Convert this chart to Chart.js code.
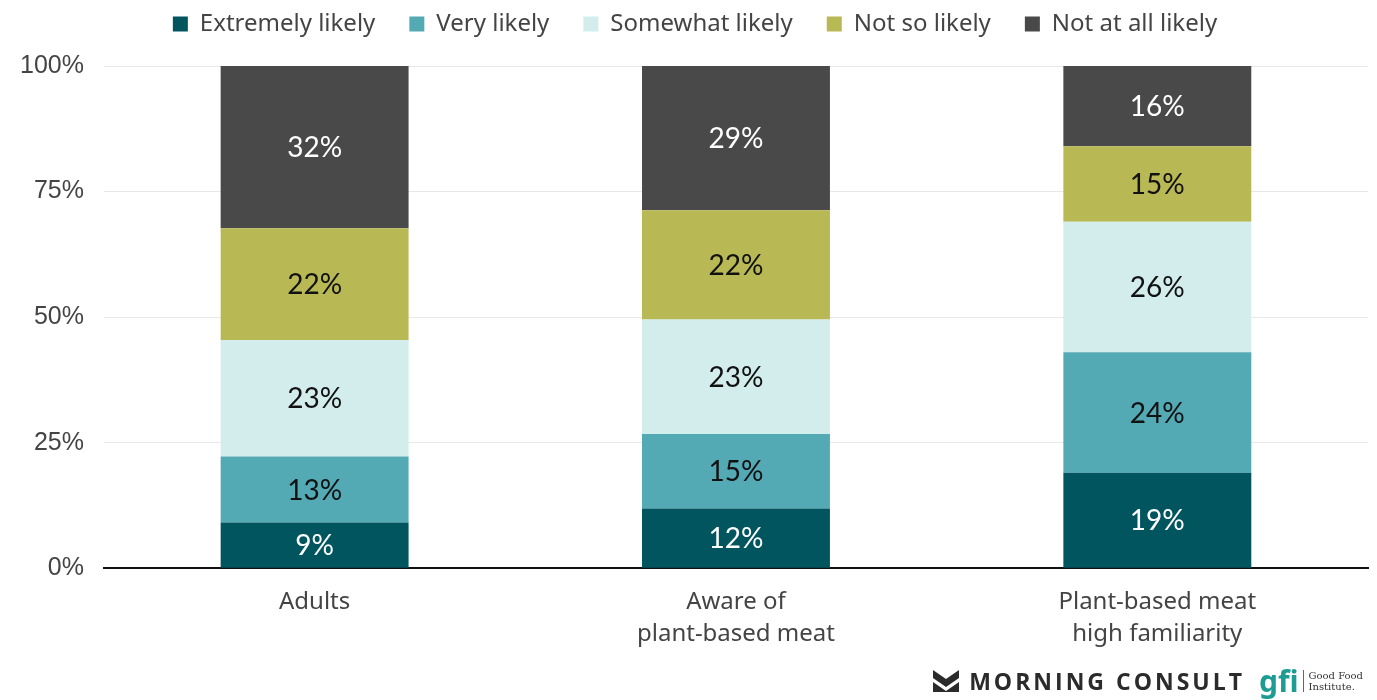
<!DOCTYPE html>
<html>
<head>
<meta charset="utf-8">
<script src="https://cdn.jsdelivr.net/npm/chart.js@4.4.1/dist/chart.umd.min.js"></script>
<style>
  html, body { margin: 0; padding: 0; background: #fff; }
  #wrap { position: relative; width: 1377px; height: 700px; }
  #brand { position: absolute; right: 14px; bottom: 3px; display: flex; align-items: center; gap: 14px; }
  .mc { display: flex; align-items: center; gap: 10px; font-family: "Open Sans", sans-serif; font-weight: 700;
        font-size: 23px; letter-spacing: 3px; color: #2b2b2b; }
  .gfi { display: flex; align-items: center; gap: 4px; }
  .gfi b { font-family: "Noto Sans", sans-serif; color: #1d9c93; font-size: 30px; font-weight: 700; line-height: 1; }
  .gfi span { font-family: "DejaVu Serif", serif; font-size: 10px; line-height: 11px; color: #333;
              border-left: 1px solid #666; padding-left: 5px; }
</style>
</head>
<body>
<div id="wrap">
  <canvas id="likelyChart" width="1377" height="700"></canvas>
  <div id="brand">
    <div class="mc">
      <svg width="26" height="22" viewBox="0 0 26 22"><path d="M0 0 L13 9 L26 0 L26 8 L13 17 L0 8 Z M0 12 L13 21 L26 12 L26 22 L0 22 Z" fill="#2b2b2b"/></svg>
      MORNING CONSULT
    </div>
    <div class="gfi"><b>gfi</b><span>Good Food<br>Institute.</span></div>
  </div>
</div>
<script>
// groups on the x axis
const groupLabels = [["Adults"], ["Aware of", "plant-based meat"], ["Plant-based meat", "high familiarity"]];

// answer shares, %
const extremelyLikely = [9, 12, 19];
const veryLikely = [13, 15, 24];
const somewhatLikely = [23, 23, 26];
const notSoLikely = [22, 22, 15];
const notAtAllLikely = [32, 29, 16];

const yTicks = [0, 25, 50, 75, 100];

const series = [
    { label: "Extremely likely", values: extremelyLikely, color: "#00555f", text: "#ffffff" },
    { label: "Very likely", values: veryLikely, color: "#53a9b4", text: "#111111" },
    { label: "Somewhat likely", values: somewhatLikely, color: "#d3ecec", text: "#111111" },
    { label: "Not so likely", values: notSoLikely, color: "#b8b954", text: "#111111" },
    { label: "Not at all likely", values: notAtAllLikely, color: "#494949", text: "#ffffff" }
];

// each bar is scaled to a 100% total
const totals = groupLabels.map((g, i) => series.reduce((s, d) => s + d.values[i], 0));

const barLabels = {
    id: "barLabels",
    afterDatasetsDraw(chart) {
        const ctx = chart.ctx;
        ctx.save();
        ctx.font = "28px Lato";
        ctx.textAlign = "center";
        ctx.textBaseline = "middle";
        chart.data.datasets.forEach((ds, di) => {
            chart.getDatasetMeta(di).data.forEach((bar, i) => {
                const mid = (bar.y + bar.base) / 2;
                ctx.fillStyle = series[di].text;
                ctx.fillText(ds.raw[i] + "%", bar.x, mid + 1);
            });
        });
        ctx.restore();
    }
};

// wide gaps between legend items, legend pulled up near the top edge
const LEGEND_PAD = 34;
const legendShift = {
    id: "legendShift",
    beforeInit(chart) {
        const fit = chart.legend.fit;
        chart.legend.fit = function () {
            fit.call(this);
            this.height -= 2;
        };
    },
    afterLayout(chart) {
        const lg = chart.legend;
        lg.top -= LEGEND_PAD - 12;
        lg.left += 11;
        lg.right += 11;
    }
};

const ctx = document.getElementById("likelyChart").getContext("2d");
new Chart(ctx, {
    type: "bar",
    data: {
        labels: groupLabels,
        datasets: series.map(s => ({
            label: s.label,
            raw: s.values,
            data: s.values.map((v, i) => v / totals[i] * 100),
            backgroundColor: s.color,
            borderWidth: 0,
            barPercentage: 0.446,
            categoryPercentage: 1
        }))
    },
    options: {
        responsive: false,
        animation: false,
        layout: { padding: { left: 0, right: 9, top: 0, bottom: 32 } },
        plugins: {
            tooltip: { enabled: false },
            legend: {
                position: "top",
                labels: {
                    boxWidth: 15,
                    boxHeight: 15,
                    padding: LEGEND_PAD,
                    color: "#444",
                    font: { family: "Noto Sans", size: 24 }
                }
            }
        },
        scales: {
            x: {
                stacked: true,
                grid: { display: false, drawTicks: false },
                border: { color: "#111", width: 2 },
                ticks: {
                    color: "#444",
                    padding: 18,
                    font: { family: "Noto Sans", size: 24, lineHeight: 1.33 }
                }
            },
            y: {
                stacked: true,
                min: 0,
                max: 100,
                afterBuildTicks: axis => { axis.ticks = yTicks.map(v => ({ value: v })); },
                grid: { color: "#e8e8e8", drawTicks: false },
                border: { display: false },
                ticks: {
                    color: "#444",
                    padding: 20,
                    font: { family: "Liberation Sans", size: 25 },
                    callback: v => v + "%"
                }
            }
        }
    },
    plugins: [barLabels, legendShift]
});
</script>
</body>
</html>
